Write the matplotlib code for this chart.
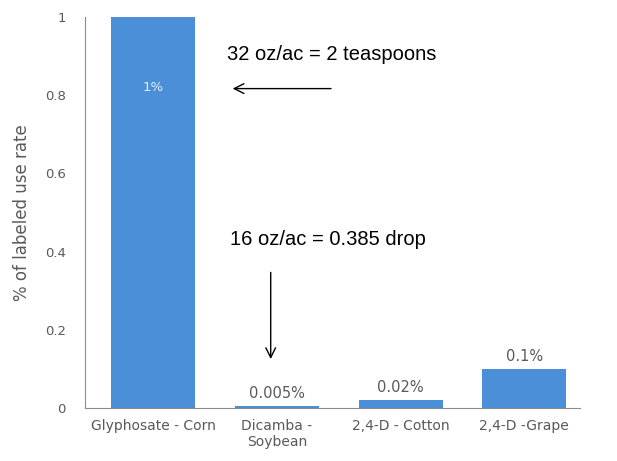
import matplotlib.pyplot as plt

# Data
crops = ['Glyphosate - Corn', 'Dicamba -\nSoybean', '2,4-D - Cotton', '2,4-D -Grape']
rates = [1.0, 0.005, 0.02, 0.1]
rate_labels = ['1%', '0.005%', '0.02%', '0.1%']
yticks = [0, 0.2, 0.4, 0.6, 0.8, 1]
ytick_labels = ['0', '0.2', '0.4', '0.6', '0.8', '1']

gray = '#595959'
bar_color = '#4a8fd8'

fig = plt.figure(figsize=(6.17, 4.61), dpi=100)
ax = fig.add_axes([0.138, 0.115, 0.802, 0.848])

x = list(range(len(crops)))
bars = ax.bar(x, rates, width=0.68, color=bar_color)

# value labels
for i, (v, lab) in enumerate(zip(rates, rate_labels)):
    if v > 0.5:
        ax.text(i, v - 0.18, lab, ha='center', va='center', color='#e8f0fa', fontsize=9.5)
    else:
        ax.text(i, v + 0.012, lab, ha='center', va='bottom', color=gray, fontsize=10.5)

ax.set_xlim(-0.55, 3.45)
ax.set_ylim(0, 1)
ax.set_xticks(x)
ax.set_xticklabels(crops, color=gray, fontsize=10)
ax.set_yticks(yticks)
ax.set_yticklabels(ytick_labels, color=gray, fontsize=9.5)
ax.tick_params(length=0, pad=14)
ax.tick_params(axis='x', pad=8)
ax.set_ylabel('% of labeled use rate', color=gray, fontsize=12, labelpad=10)

for s in ['top', 'right']:
    ax.spines[s].set_visible(False)
ax.spines['left'].set_color('#8c8c8c')
ax.spines['bottom'].set_color('#8c8c8c')

# annotations
arrow = dict(arrowstyle='->,head_length=0.7,head_width=0.35', color='black', lw=1)
ax.text(0.6, 0.905, '32 oz/ac = 2 teaspoons', fontsize=14.5, family='Liberation Sans',
        ha='left', va='center')
ax.annotate('', xy=(0.62, 0.817), xytext=(1.46, 0.817), arrowprops=arrow)
ax.text(0.62, 0.43, '16 oz/ac = 0.385 drop', fontsize=14.5, family='Liberation Sans',
        ha='left', va='center')
ax.annotate('', xy=(0.95, 0.118), xytext=(0.95, 0.354), arrowprops=arrow)

fig.savefig('out.png', dpi=100)
